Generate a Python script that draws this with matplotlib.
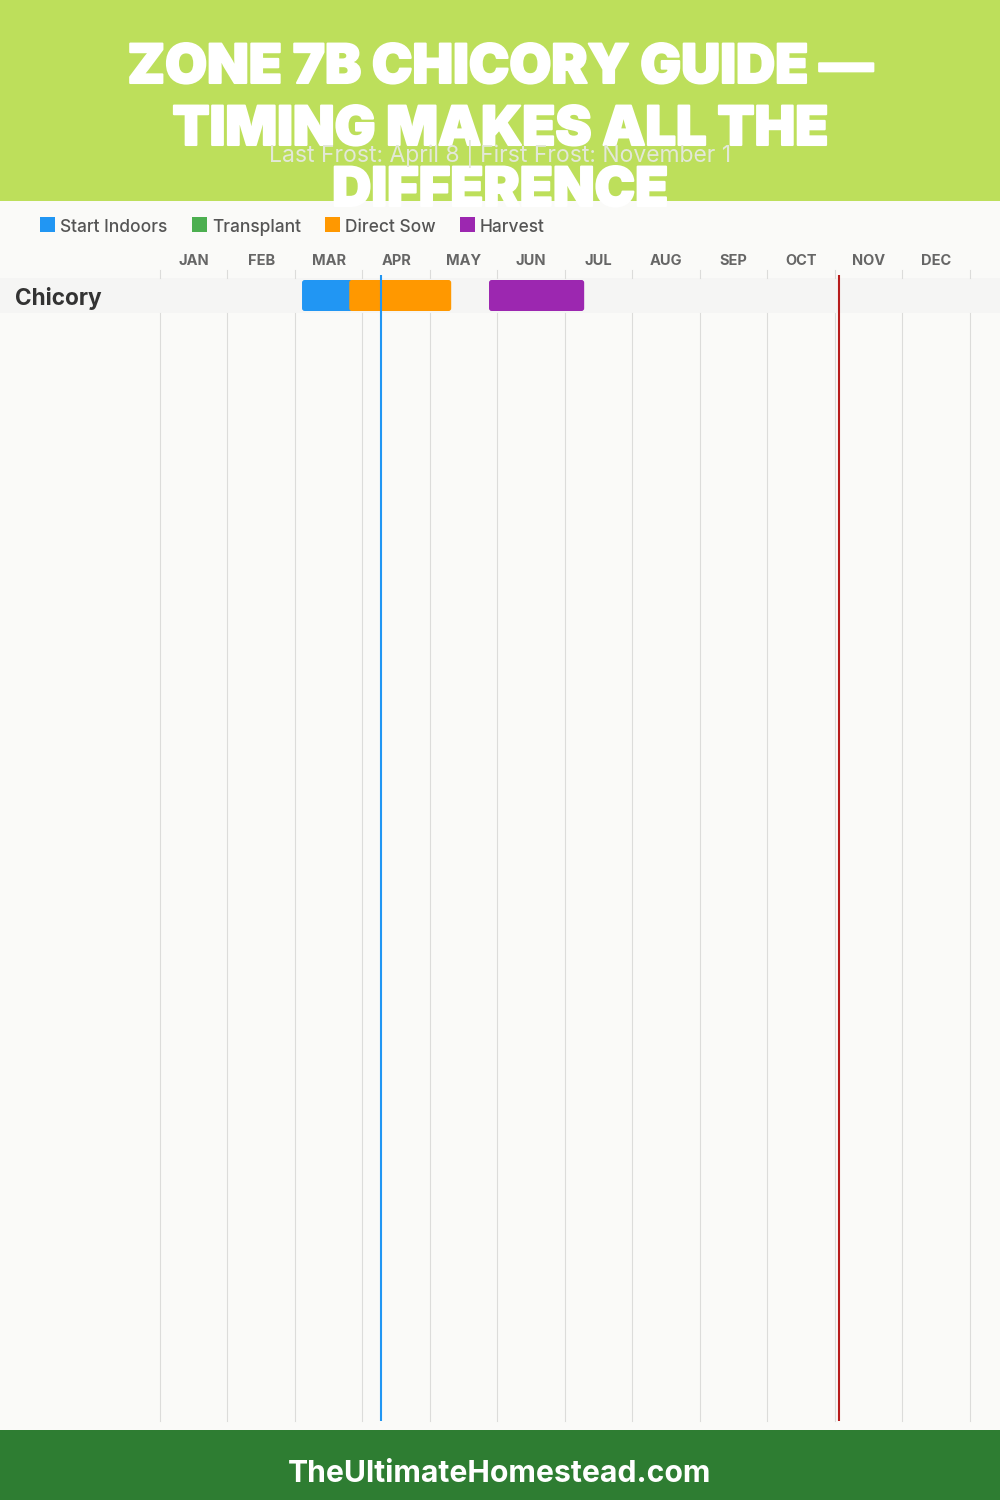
import matplotlib
matplotlib.use("Agg")
import matplotlib.pyplot as plt
import matplotlib.patheffects as pe
from matplotlib.patches import FancyBboxPatch, Rectangle

# data
months = ["JAN", "FEB", "MAR", "APR", "MAY", "JUN", "JUL", "AUG", "SEP", "OCT", "NOV", "DEC"]
crop = "Chicory"
legend_names = ["Start Indoors", "Transplant", "Direct Sow", "Harvest"]
legend_colors = ["#2196F3", "#4CAF50", "#FF9800", "#9C27B0"]
# start, end in months from Jan 1, drawn in this order
bar_names = ["Start Indoors", "Direct Sow", "Harvest"]
bar_starts = [2.11, 2.81, 4.88]
bar_ends = [2.86, 4.32, 6.29]
last_frost = 3.28
first_frost = 10.06

title_lines = ["ZONE 7B CHICORY GUIDE —", "TIMING MAKES ALL THE", "DIFFERENCE"]
subtitle = "Last Frost: April 8 | First Frost: November 1"
footer = "TheUltimateHomestead.com"

W, H = 1000, 1500
plt.rcParams["font.family"] = ["Inter", "DejaVu Sans"]
fig = plt.figure(figsize=(10, 15), dpi=100, facecolor="#FAFAF8")

# page layer in pixels, for header, footer, legend and texts
page = fig.add_axes([0, 0, 1, 1], zorder=0)
page.set_xlim(0, W)
page.set_ylim(H, 0)
page.axis("off")
page.add_patch(Rectangle((0, 0), W, 201, fc="#BDDF5B", ec="none"))
page.add_patch(Rectangle((0, 1430), W, 70, fc="#2E7D32", ec="none"))
page.add_patch(Rectangle((0, 278), W, 35, fc="#F5F5F4", ec="none"))

# chart axes: months 0-12 across x 160-970, grid from y 270 to 1421
ax = fig.add_axes([159.6 / W, 1 - 1421 / H, 810 / W, (1421 - 270) / H], zorder=1)
ax.patch.set_alpha(0)
ax.set_xlim(0, 12)
ax.set_ylim(1421, 270)
for s in ax.spines.values():
    s.set_visible(False)
ax.set_xticks([])
ax.set_yticks([])

for m in range(13):
    ax.plot([m, m], [270, 278], color="#DCDCDA", lw=0.8, zorder=1, clip_on=False)
    ax.plot([m, m], [313, 1421], color="#DCDCDA", lw=0.8, zorder=1, clip_on=False)

for i, name in enumerate(months):
    ax.text(i + 0.505, 259, name, ha="center", va="center_baseline", fontsize=10.5,
            fontweight="bold", color="#666666", clip_on=False)

color_of = dict(zip(legend_names, legend_colors))
for name, x0, x1 in zip(bar_names, bar_starts, bar_ends):
    ax.add_patch(FancyBboxPatch((x0, 280), x1 - x0, 31, mutation_aspect=67.5,
                                boxstyle="round,pad=0,rounding_size=0.04",
                                fc=color_of[name], ec="none", zorder=2))

ax.plot([last_frost, last_frost], [275, 1421], color="#2196F3", lw=1.5, zorder=3, solid_capstyle="butt")
ax.plot([first_frost, first_frost], [275, 1421], color="#B71C1C", lw=1.5, zorder=3, solid_capstyle="butt")

# header texts
for text, y in zip(title_lines, [63, 125, 186]):
    page.text(500, y, text, ha="center", va="center_baseline", fontsize=39, fontweight=900, color="white",
              path_effects=[pe.withStroke(linewidth=1.5, foreground="white")], zorder=5)
page.text(500, 154, subtitle, ha="center", va="center", fontsize=16.5, color="#E3E8D8", zorder=6)

# legend
for name, color, x in zip(legend_names, legend_colors, [40, 192, 325, 460]):
    page.add_patch(Rectangle((x, 217), 15, 15, fc=color, ec="none"))
    page.text(x + 20, 225, name, ha="left", va="center_baseline", fontsize=12.5, fontweight="medium", color="#555555")

page.text(15, 296, crop, ha="left", va="center_baseline", fontsize=16.3, fontweight="bold", color="#333333")
page.text(500, 1471, footer, ha="center", va="center_baseline", fontsize=21.7, fontweight="bold", color="white")

fig.savefig("out.png", dpi=100, facecolor=fig.get_facecolor())
